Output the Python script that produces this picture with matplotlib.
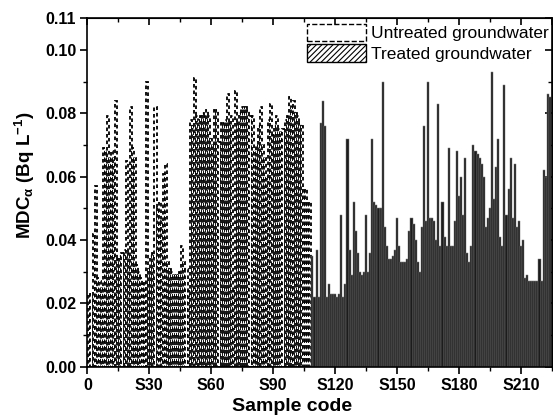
import numpy as np
import matplotlib.pyplot as plt
from matplotlib.patches import Patch
from matplotlib.ticker import FixedLocator

plt.rcParams['font.family'] = ['Liberation Sans', 'DejaVu Sans']
plt.rcParams['mathtext.fontset'] = 'custom'
plt.rcParams['mathtext.rm'] = 'Liberation Sans:bold'
plt.rcParams['mathtext.it'] = 'Liberation Sans:bold'
plt.rcParams['mathtext.bf'] = 'Liberation Sans:bold'
plt.rcParams['mathtext.default'] = 'rm'
plt.rcParams['hatch.linewidth'] = 0.8

# Minimum detectable concentration per sample (Bq/L)
untreated_mdc = [
    0.023, 0.023, 0.042, 0.057, 0.028, 0.027, 0.025, 0.069, 0.068, 0.079,
    0.066, 0.068, 0.066, 0.084, 0.034, 0.035, 0.036, 0.037, 0.065, 0.036,
    0.082, 0.069, 0.066, 0.032, 0.030, 0.028, 0.026, 0.027, 0.090, 0.031,
    0.035, 0.036, 0.082, 0.050, 0.052, 0.046, 0.061, 0.064, 0.033, 0.031,
    0.030, 0.029, 0.029, 0.029, 0.030, 0.038, 0.033, 0.031, 0.024, 0.078,
    0.076, 0.091, 0.079, 0.078, 0.079, 0.080, 0.079, 0.081, 0.079, 0.072,
    0.070, 0.081, 0.081, 0.071, 0.077, 0.077, 0.078, 0.086, 0.077, 0.079,
    0.024, 0.087, 0.077, 0.080, 0.082, 0.082, 0.082, 0.081, 0.079, 0.079,
    0.068, 0.070, 0.076, 0.082, 0.070, 0.066, 0.060, 0.078, 0.083, 0.073,
    0.076, 0.079, 0.075, 0.074, 0.075, 0.078, 0.079, 0.085, 0.082, 0.084,
    0.080, 0.079, 0.077, 0.076, 0.056, 0.056, 0.052, 0.052,
]
treated_mdc = [
    0.035, 0.022, 0.037, 0.022, 0.077, 0.084, 0.076, 0.022, 0.026, 0.023,
    0.023, 0.023, 0.022, 0.023, 0.048, 0.022, 0.026, 0.072, 0.037, 0.029,
    0.052, 0.043, 0.036, 0.030, 0.029, 0.030, 0.048, 0.030, 0.036, 0.072,
    0.052, 0.051, 0.050, 0.050, 0.090, 0.044, 0.038, 0.034, 0.034, 0.035,
    0.037, 0.047, 0.038, 0.033, 0.033, 0.033, 0.034, 0.043, 0.047, 0.045,
    0.040, 0.033, 0.030, 0.044, 0.076, 0.046, 0.090, 0.047, 0.047, 0.046,
    0.040, 0.083, 0.038, 0.052, 0.041, 0.038, 0.069, 0.038, 0.038, 0.046,
    0.068, 0.054, 0.060, 0.048, 0.066, 0.036, 0.033, 0.038, 0.070, 0.068,
    0.067, 0.066, 0.064, 0.060, 0.044, 0.047, 0.050, 0.093, 0.053, 0.063,
    0.072, 0.041, 0.038, 0.089, 0.048, 0.056, 0.066, 0.047, 0.064, 0.044,
    0.046, 0.038, 0.040, 0.028, 0.029, 0.027, 0.027, 0.027, 0.027, 0.027,
    0.034, 0.027, 0.062, 0.060, 0.086, 0.085,
]

x_tick_pos = [0, 30, 60, 90, 120, 150, 180, 210]
x_tick_labels = ['0', 'S30', 'S60', 'S90', 'S120', 'S150', 'S180', 'S210']
y_tick_pos = [0.00, 0.02, 0.04, 0.06, 0.08, 0.10, 0.11]
y_tick_labels = ['0.00', '0.02', '0.04', '0.06', '0.08', '0.10', '0.11']

n_u = len(untreated_mdc)
untreated_ids = np.arange(1, n_u + 1)
treated_ids = np.arange(n_u + 1, n_u + len(treated_mdc) + 1)

fig = plt.figure(figsize=(5.53, 4.16), dpi=100)
ax = fig.add_axes([0.158, 0.1185, 0.840, 0.8375])

ax.bar(untreated_ids, untreated_mdc, width=1.0, facecolor='white',
       edgecolor='black', linestyle=(0, (2.0, 1.6)), linewidth=1.3, zorder=2)
ax.bar(treated_ids, treated_mdc, width=1.0, facecolor='#1c1c1c',
       edgecolor='#7a7a7a', linewidth=0.35, zorder=2)

ax.set_xlim(0, 225)
ax.set_ylim(0, 0.11)

ax.xaxis.set_major_locator(FixedLocator(x_tick_pos))
ax.set_xticklabels(x_tick_labels)
ax.xaxis.set_minor_locator(FixedLocator([15, 45, 75, 105, 135, 165, 195, 225]))
ax.yaxis.set_major_locator(FixedLocator(y_tick_pos))
ax.set_yticklabels(y_tick_labels)
ax.yaxis.set_minor_locator(FixedLocator([0.01, 0.03, 0.05, 0.07, 0.09]))

ax.tick_params(axis='both', which='major', direction='out', length=5, width=1.2,
               labelsize=11.5, pad=3)
ax.tick_params(axis='both', which='minor', direction='out', length=3, width=1.0)
for lab in ax.get_xticklabels() + ax.get_yticklabels():
    lab.set_fontweight('bold')

# mirrored inward ticks on the top and right spines
top = ax.secondary_xaxis('top')
top.xaxis.set_major_locator(FixedLocator(x_tick_pos + [225]))
top.xaxis.set_minor_locator(FixedLocator([15, 45, 75, 105, 135, 165, 195]))
top.tick_params(which='major', direction='in', length=5, width=1.2, labeltop=False)
top.tick_params(which='minor', direction='in', length=3, width=1.0)
right = ax.secondary_yaxis('right')
right.yaxis.set_major_locator(FixedLocator(y_tick_pos))
right.yaxis.set_minor_locator(FixedLocator([0.01, 0.03, 0.05, 0.07, 0.09]))
right.tick_params(which='major', direction='in', length=5, width=1.2, labelright=False)
right.tick_params(which='minor', direction='in', length=3, width=1.0)

for sp in ax.spines.values():
    sp.set_linewidth(1.2)

ax.set_ylabel(r'MDC$_{\alpha}$ (Bq L$^{-1}$)', fontsize=13.5, fontweight='bold')
ax.yaxis.set_label_coords(-0.108, 0.55)
ax.set_xlabel('Sample code', fontsize=14, fontweight='bold')
ax.xaxis.set_label_coords(0.44, -0.09)

handles = [
    Patch(facecolor='white', edgecolor='black', linestyle='--', linewidth=1.0,
          label='Untreated groundwater'),
    Patch(facecolor='white', edgecolor='black', hatch='//////', linewidth=1.0,
          label='Treated groundwater'),
]
ax.legend(handles=handles, loc='upper left', bbox_to_anchor=(0.462, 1.0),
          frameon=False, fontsize=12.5, handlelength=3.4, handleheight=1.2,
          handletextpad=0.3, labelspacing=0.15, borderpad=0.1, borderaxespad=0.2)

fig.savefig('out.png', dpi=100)
